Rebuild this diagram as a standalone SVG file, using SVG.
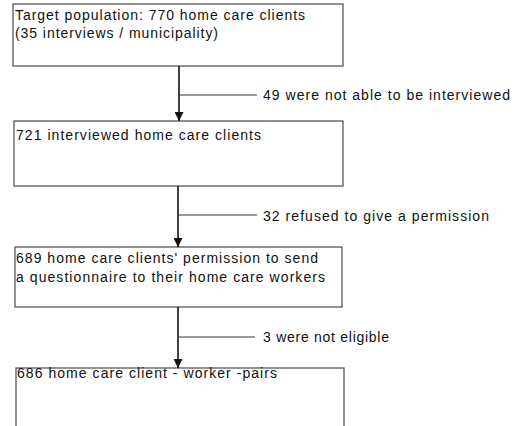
<svg xmlns="http://www.w3.org/2000/svg" width="520" height="426" viewBox="0 0 520 426">
  <style>
    .box { fill: #ffffff; stroke: #4a4a4a; stroke-width: 1.2; }
    .txt { font-family: "Liberation Sans", Arial, sans-serif; font-size: 14px; fill: #111111; }
    .main { stroke: #111111; stroke-width: 1.6; fill: none; }
    .side { stroke: #333333; stroke-width: 1; fill: none; }
  </style>
  <defs>
    <marker id="arrow" viewBox="0 0 10 10" refX="10" refY="5" markerWidth="9" markerHeight="9" markerUnits="userSpaceOnUse" orient="auto">
      <path d="M0,0 L10,5 L0,10 Z" fill="#111111"/>
    </marker>
  </defs>
  <rect width="520" height="426" fill="#ffffff"/>

  <g id="node-target">
    <rect class="box" x="13" y="4" width="330" height="62"/>
    <text class="txt" x="15" y="20" textLength="290" lengthAdjust="spacing">Target population:  770 home care clients</text>
    <text class="txt" x="15" y="38" textLength="203" lengthAdjust="spacing">(35 interviews / municipality)</text>
  </g>

  <g id="node-interviewed">
    <rect class="box" x="14" y="121" width="329" height="65"/>
    <text class="txt" x="16" y="140" textLength="245" lengthAdjust="spacing">721 interviewed home care clients</text>
  </g>

  <g id="node-permission">
    <rect class="box" x="15" y="247" width="327" height="60"/>
    <text class="txt" x="16" y="263" textLength="302" lengthAdjust="spacing">689 home care clients' permission to send</text>
    <text class="txt" x="16" y="282" textLength="309" lengthAdjust="spacing">a questionnaire to their home care workers</text>
  </g>

  <g id="node-pairs">
    <rect class="box" x="16" y="368" width="328" height="70"/>
    <text class="txt" x="17" y="378" textLength="260" lengthAdjust="spacing">686 home care client - worker -pairs</text>
  </g>

  <g id="connectors">
    <line class="main" x1="179" y1="66" x2="179" y2="121" marker-end="url(#arrow)"/>
    <line class="side" x1="179" y1="95" x2="257" y2="95"/>
    <text class="txt" x="263" y="100" textLength="247" lengthAdjust="spacing">49 were not able to be interviewed</text>

    <line class="main" x1="178" y1="186" x2="178" y2="247" marker-end="url(#arrow)"/>
    <line class="side" x1="178" y1="215" x2="257" y2="215"/>
    <text class="txt" x="263" y="221" textLength="226" lengthAdjust="spacing">32 refused to give a permission</text>

    <line class="main" x1="178" y1="307" x2="178" y2="368" marker-end="url(#arrow)"/>
    <line class="side" x1="178" y1="337" x2="255" y2="337"/>
    <text class="txt" x="263" y="342" textLength="126" lengthAdjust="spacing">3 were not eligible</text>
  </g>
</svg>
